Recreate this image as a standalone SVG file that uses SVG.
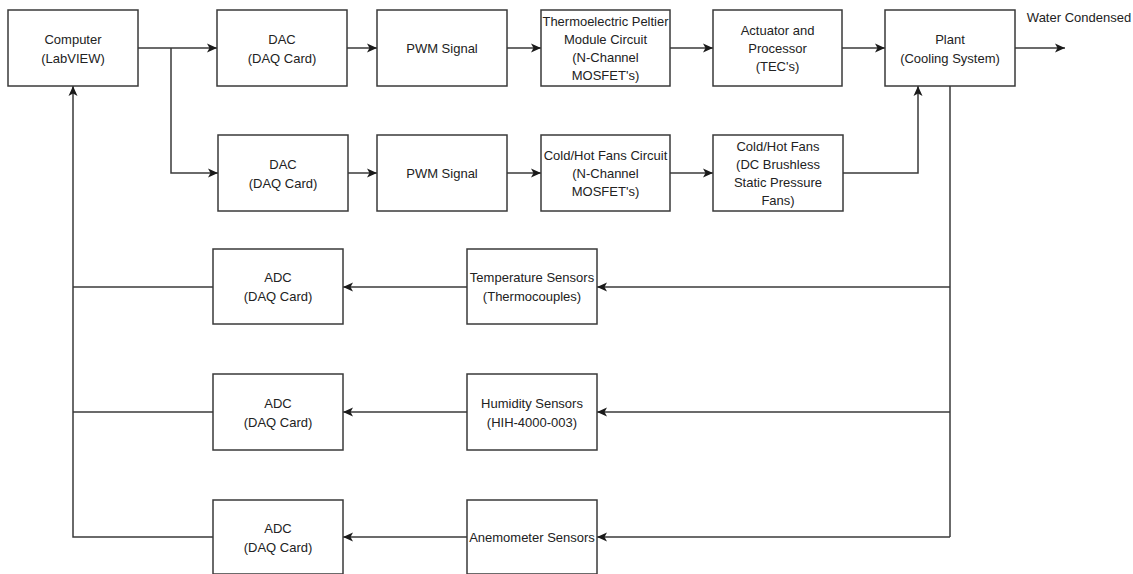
<svg xmlns="http://www.w3.org/2000/svg" width="1133" height="574" viewBox="0 0 1133 574">
  <style>
    .box { fill: #ffffff; stroke: #3a3a3a; stroke-width: 1.5; }
    .lbl { font-family: "Liberation Sans", Arial, sans-serif; font-size: 13px; fill: #222222; text-anchor: middle; dominant-baseline: central; }
    .wire { fill: none; stroke: #3a3a3a; stroke-width: 1.5; }
    .arr { marker-end: url(#head); }
  </style>
  <defs>
    <marker id="head" markerUnits="userSpaceOnUse" markerWidth="11" markerHeight="10" refX="10" refY="5" orient="auto">
      <path d="M0,0.5 L10,5 L0,9.5 L2.5,5 Z" fill="#1a1a1a"/>
    </marker>
  </defs>
  <rect width="1133" height="574" fill="#ffffff"/>

  <!-- connectors -->
  <g id="connectors">
    <path class="wire arr" d="M138,48 H217"/>
    <path class="wire arr" d="M171,48 V173 H218"/>
    <path class="wire arr" d="M347,48 H377"/>
    <path class="wire arr" d="M507,48 H541"/>
    <path class="wire arr" d="M670,48 H713"/>
    <path class="wire arr" d="M842,48 H885"/>
    <path class="wire arr" d="M1015,48 H1065"/>
    <path class="wire arr" d="M348,173 H377"/>
    <path class="wire arr" d="M507,173 H541"/>
    <path class="wire arr" d="M670,173 H713"/>
    <path class="wire arr" d="M843,173 H918 V86"/>
    <path class="wire" d="M950,86 V537"/>
    <path class="wire arr" d="M950,287 H597"/>
    <path class="wire arr" d="M950,412 H597"/>
    <path class="wire arr" d="M950,537 H597"/>
    <path class="wire arr" d="M467,287 H343"/>
    <path class="wire arr" d="M467,412 H343"/>
    <path class="wire arr" d="M467,537 H343"/>
    <path class="wire" d="M213,287 H73"/>
    <path class="wire" d="M213,412 H73"/>
    <path class="wire arr" d="M213,537 H73 V86"/>
  </g>

  <!-- forward path -->
  <g id="computer">
    <rect class="box" x="8" y="10" width="130" height="76"/>
    <text class="lbl" x="73" y="39">Computer</text>
    <text class="lbl" x="73" y="58">(LabVIEW)</text>
  </g>
  <g id="dac1">
    <rect class="box" x="217" y="10" width="130" height="76"/>
    <text class="lbl" x="282" y="39">DAC</text>
    <text class="lbl" x="282" y="58">(DAQ Card)</text>
  </g>
  <g id="pwm1">
    <rect class="box" x="377" y="10" width="130" height="76"/>
    <text class="lbl" x="442" y="48">PWM Signal</text>
  </g>
  <g id="tec-circuit">
    <rect class="box" x="541" y="10" width="129" height="76"/>
    <text class="lbl" x="605.5" y="21" textLength="126" lengthAdjust="spacingAndGlyphs">Thermoelectric Peltier</text>
    <text class="lbl" x="605.5" y="39">Module Circuit</text>
    <text class="lbl" x="605.5" y="57">(N-Channel</text>
    <text class="lbl" x="605.5" y="75">MOSFET's)</text>
  </g>
  <g id="actuator">
    <rect class="box" x="713" y="10" width="129" height="76"/>
    <text class="lbl" x="777.5" y="30">Actuator and</text>
    <text class="lbl" x="777.5" y="48">Processor</text>
    <text class="lbl" x="777.5" y="66">(TEC's)</text>
  </g>
  <g id="plant">
    <rect class="box" x="885" y="10" width="130" height="76"/>
    <text class="lbl" x="950" y="39">Plant</text>
    <text class="lbl" x="950" y="58">(Cooling System)</text>
  </g>
  <g id="water-condensed">
    <text class="lbl" x="1079" y="17">Water Condensed</text>
  </g>

  <!-- fan path -->
  <g id="dac2">
    <rect class="box" x="218" y="135" width="130" height="76"/>
    <text class="lbl" x="283" y="164">DAC</text>
    <text class="lbl" x="283" y="183">(DAQ Card)</text>
  </g>
  <g id="pwm2">
    <rect class="box" x="377" y="135" width="130" height="76"/>
    <text class="lbl" x="442" y="173">PWM Signal</text>
  </g>
  <g id="fans-circuit">
    <rect class="box" x="541" y="135" width="129" height="76"/>
    <text class="lbl" x="605.5" y="155">Cold/Hot Fans Circuit</text>
    <text class="lbl" x="605.5" y="173">(N-Channel</text>
    <text class="lbl" x="605.5" y="191">MOSFET's)</text>
  </g>
  <g id="fans">
    <rect class="box" x="713" y="135" width="130" height="76"/>
    <text class="lbl" x="778" y="146">Cold/Hot Fans</text>
    <text class="lbl" x="778" y="164">(DC Brushless</text>
    <text class="lbl" x="778" y="182">Static Pressure</text>
    <text class="lbl" x="778" y="200">Fans)</text>
  </g>

  <!-- feedback path -->
  <g id="adc1">
    <rect class="box" x="213" y="249" width="130" height="75"/>
    <text class="lbl" x="278" y="277">ADC</text>
    <text class="lbl" x="278" y="296">(DAQ Card)</text>
  </g>
  <g id="temp-sensors">
    <rect class="box" x="467" y="249" width="130" height="75"/>
    <text class="lbl" x="532" y="277">Temperature Sensors</text>
    <text class="lbl" x="532" y="296">(Thermocouples)</text>
  </g>
  <g id="adc2">
    <rect class="box" x="213" y="374" width="130" height="76"/>
    <text class="lbl" x="278" y="403">ADC</text>
    <text class="lbl" x="278" y="422">(DAQ Card)</text>
  </g>
  <g id="humidity-sensors">
    <rect class="box" x="467" y="374" width="130" height="76"/>
    <text class="lbl" x="532" y="403">Humidity Sensors</text>
    <text class="lbl" x="532" y="422">(HIH-4000-003)</text>
  </g>
  <g id="adc3">
    <rect class="box" x="213" y="500" width="130" height="74"/>
    <text class="lbl" x="278" y="528">ADC</text>
    <text class="lbl" x="278" y="547">(DAQ Card)</text>
  </g>
  <g id="anemometer-sensors">
    <rect class="box" x="467" y="500" width="130" height="74"/>
    <text class="lbl" x="532" y="537">Anemometer Sensors</text>
  </g>
</svg>
